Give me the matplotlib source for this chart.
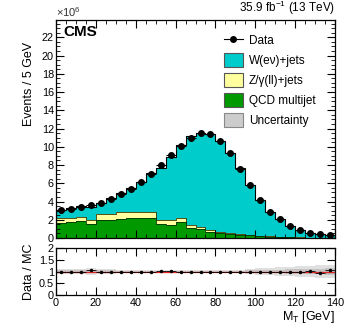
import matplotlib
matplotlib.use("Agg")
import matplotlib.pyplot as plt
import numpy as np
from matplotlib.lines import Line2D
from matplotlib.patches import Patch
from matplotlib.ticker import MultipleLocator

plt.rcParams["font.family"] = ["Liberation Sans", "DejaVu Sans"]
plt.rcParams["mathtext.fontset"] = "custom"
plt.rcParams["mathtext.rm"] = "Liberation Sans"

# M_T bins, 5 GeV wide, 0-140 GeV
edges = np.arange(0, 145, 5)

# Event counts in units of 1e6
data = [3.1, 3.2, 3.35, 3.6, 3.85, 4.3, 4.8, 5.4, 6.1, 7.0, 8.0, 9.05, 10.1, 11.0,
        11.5, 11.4, 10.6, 9.3, 7.6, 5.8, 4.15, 2.8, 2.05, 1.3, 0.87, 0.58, 0.4, 0.33]
qcd = [1.65, 1.72, 1.85, 1.53, 1.93, 2.0, 2.1, 2.15, 2.18, 2.2, 1.5, 1.42, 1.8, 1.06,
       0.95, 0.69, 0.51, 0.44, 0.36, 0.3, 0.22, 0.15, 0.1, 0.07, 0.05, 0.03, 0.02, 0.02]
zjets = [0.5, 0.48, 0.45, 0.47, 0.67, 0.65, 0.7, 0.67, 0.64, 0.6, 0.47, 0.51, 0.4, 0.36,
         0.25, 0.21, 0.11, 0.06, 0.04, 0.03, 0.03, 0.02, 0.02, 0.01, 0.01, 0.01, 0.01, 0.0]
wjets = [0.95, 1.1, 1.19, 1.36, 1.29, 1.78, 2.1, 2.69, 3.28, 4.34, 5.72, 6.94, 8.0, 9.8,
         10.3, 10.5, 9.98, 8.8, 7.28, 5.47, 3.94, 2.69, 1.97, 1.23, 0.81, 0.53, 0.39, 0.29]
# relative MC uncertainty (inner / outer band in ratio pad)
unc_in = [0.05, 0.05, 0.05, 0.08, 0.05, 0.05, 0.04, 0.04, 0.04, 0.04, 0.04, 0.04, 0.03, 0.03,
          0.03, 0.03, 0.03, 0.03, 0.04, 0.05, 0.06, 0.07, 0.08, 0.09, 0.1, 0.11, 0.12, 0.13]
unc_out = [0.09, 0.09, 0.09, 0.15, 0.09, 0.09, 0.08, 0.08, 0.08, 0.07, 0.07, 0.07, 0.06, 0.06,
           0.06, 0.06, 0.06, 0.06, 0.08, 0.1, 0.13, 0.16, 0.18, 0.2, 0.22, 0.24, 0.26, 0.28]

c_w = "#00cccc"
c_z = "#ffffa0"
c_qcd = "#009900"
c_unc = "#cccccc"

centers = 0.5 * (edges[:-1] + edges[1:])
qcd = np.array(qcd)
zjets = np.array(zjets)
wjets = np.array(wjets)
data = np.array(data)
mc = qcd + zjets + wjets
ratio = data / mc

fig = plt.figure(figsize=(3.49, 3.35), dpi=100)
ax = fig.add_axes([0.1605, 0.2896, 0.7995, 0.6507])
rax = fig.add_axes([0.1605, 0.1194, 0.7995, 0.1403], sharex=ax)

# stacked histograms
ax.stairs(qcd + zjets + wjets, edges, baseline=qcd + zjets, fill=True, color=c_w)
ax.stairs(qcd + zjets, edges, baseline=qcd, fill=True, color=c_z)
ax.stairs(qcd, edges, baseline=0, fill=True, color=c_qcd)
ax.stairs(qcd + zjets + wjets, edges, color="black", lw=0.8)
ax.stairs(qcd + zjets, edges, color="#333300", lw=0.6)
ax.stairs(qcd, edges, color="#003300", lw=0.6)

ax.errorbar(centers, data, xerr=2.5, fmt="o", color="black", ms=4, lw=0.8,
            capsize=0)

tick_fs = 7.8
ax.set_xlim(0, 140)
ax.set_ylim(0, 23.9)
ax.yaxis.set_major_locator(MultipleLocator(2))
ax.yaxis.set_minor_locator(MultipleLocator(0.5))
ax.xaxis.set_major_locator(MultipleLocator(20))
ax.xaxis.set_minor_locator(MultipleLocator(5))
ax.tick_params(which="both", direction="in", top=True, right=True, labelsize=tick_fs,
               pad=1.5)
ax.tick_params(which="major", length=6)
ax.tick_params(which="minor", length=3)
ax.tick_params(axis="x", labelbottom=False)
ax.set_ylabel("Events / 5 GeV", fontsize=9, loc="top")
ax.yaxis.set_label_coords(-0.075, 0.9)
ax.text(0.0, 1.005, r"$\times10^{6}$", transform=ax.transAxes, fontsize=8,
        ha="left", va="bottom", color="#333333")
ax.text(1.0, 1.015, r"35.9 fb$^{-1}$ (13 TeV)", transform=ax.transAxes, fontsize=8.5,
        ha="right", va="bottom")
ax.text(0.025, 0.975, "CMS", transform=ax.transAxes, fontsize=11, fontweight="bold",
        ha="left", va="top")

handles = [
    Line2D([], [], color="black", marker="o", ms=4, lw=0.8),
    Patch(facecolor=c_w, edgecolor="#555555", lw=0.8),
    Patch(facecolor=c_z, edgecolor="#555555", lw=0.8),
    Patch(facecolor=c_qcd, edgecolor="#555555", lw=0.8),
    Patch(facecolor=c_unc, edgecolor="#888888", lw=0.8),
]
labels = ["Data", "W(e\u03bd)+jets", "Z/\u03b3(ll)+jets", "QCD multijet", "Uncertainty"]
ax.legend(handles, labels, loc="upper left", bbox_to_anchor=(0.585, 0.96),
          frameon=False, fontsize=8.5, handlelength=1.6, handleheight=1.4,
          labelspacing=0.52, handletextpad=0.5, borderaxespad=0)

# ratio pad
lo_out = np.append(1 - np.array(unc_out), 1 - unc_out[-1])
hi_out = np.append(1 + np.array(unc_out), 1 + unc_out[-1])
lo_in = np.append(1 - np.array(unc_in), 1 - unc_in[-1])
hi_in = np.append(1 + np.array(unc_in), 1 + unc_in[-1])
rax.fill_between(edges, lo_out, hi_out, step="post", color="#e0e0e0", lw=0)
rax.fill_between(edges, lo_in, hi_in, step="post", color="#c4c4c4", lw=0)
rax.axhline(1, color="#dd2222", lw=0.9, zorder=2)
rax.errorbar(centers, ratio, xerr=2.5, yerr=0.01, fmt="o", color="black", ms=1.5,
             lw=0.6, capsize=0, zorder=3)

rax.set_ylim(0, 2)
rax.tick_params(which="both", direction="in", top=True, right=True, labelsize=tick_fs,
                pad=1.5)
rax.tick_params(which="major", length=6)
rax.tick_params(which="minor", length=3)
rax.tick_params(axis="x", pad=2.5)
rax.set_yticks([0, 0.5, 1, 1.5, 2])
rax.set_yticklabels(["0", "0.5", "1", "1.5", "2"])
rax.set_ylabel("Data / MC", fontsize=9)
rax.yaxis.set_label_coords(-0.075, 0.5)
rax.set_xlabel(r"M$_{\mathrm{T}}$ [GeV]", fontsize=9, loc="right")
rax.xaxis.set_label_coords(1.0, -0.29)

for a in (ax, rax):
    for s in a.spines.values():
        s.set_linewidth(0.9)

fig.savefig("out.png", dpi=100)
